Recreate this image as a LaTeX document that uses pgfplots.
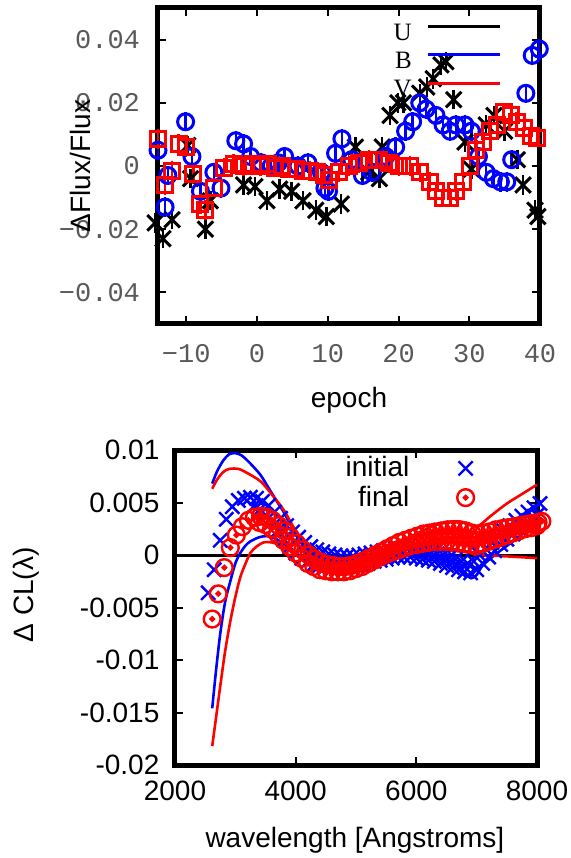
\documentclass[border=0pt]{standalone}
\usepackage{fontspec}
\setmainfont{Liberation Sans}
\newfontfamily\monofont{Liberation Mono}
\newfontfamily\seriffont{Liberation Serif}
\usepackage{pgfplots}
\pgfplotsset{compat=1.18}
\usepackage{pgfplotstable}

\pgfdeclareplotmark{odot}{%
  \pgfpathcircle{\pgfpointorigin}{\pgfplotmarksize}\pgfusepathqstroke
  \pgfpathcircle{\pgfpointorigin}{0.2\pgfplotmarksize}\pgfusepathqfillstroke}

\pgfplotstableread{
x y
-14.4 -0.018
-13.3 -0.023
-12.0 -0.017
-9.8 0.0065
-9.4 -0.004
-7.3 -0.020
-6.6 -0.011
-1.9 -0.006
-0.3 -0.0065
1.4 -0.011
3.2 -0.0073
4.9 -0.008
6.5 -0.011
8.3 -0.014
9.8 -0.016
11.9 -0.012
13.9 0.006
15.8 -0.002
17.3 -0.004
17.7 0.006
18.8 0.016
19.9 0.020
20.7 0.020
23.0 0.023
24.0 0.025
24.9 0.0276
26.0 0.032
26.7 0.033
27.8 0.021
29.4 0.0076
30.3 -0.001
32.4 0.013
33.5 0.016
35.0 0.011
36.8 0.002
37.6 -0.006
39.3 -0.014
39.7 -0.016
}\Udata

\pgfplotstableread{
x y
-14.0 0.005
-13.0 -0.013
-12.6 -0.003
-10.1 0.014
-9.2 0.003
-8.0 -0.008
-6.1 -0.002
-5.1 -0.007
-3.0 0.008
-1.9 0.007
-0.9 0.003
0.6 0.001
2.0 0.000
3.0 0.001
3.9 0.003
5.8 0.000
7.2 0.001
9.1 -0.002
9.6 -0.007
10.1 -0.008
11.1 0.004
12.0 0.0086
13.4 0.002
14.9 -0.003
16.3 -0.002
18.2 0.003
19.6 0.006
21.0 0.011
22.0 0.014
23.0 0.020
23.9 0.018
25.3 0.016
26.3 0.013
27.3 0.011
28.1 0.013
29.4 0.013
30.3 0.011
31.3 0.003
32.4 -0.002
33.4 -0.004
34.4 -0.005
35.3 -0.005
36.0 0.002
38.0 0.023
38.9 0.035
39.9 0.037
}\Bdata

\pgfplotstableread{
x y
-14.0 0.0086
-13.0 -0.006
-12.0 -0.0016
-11.1 0.007
-10.1 0.006
-9.0 -0.0025
-8.0 -0.012
-7.3 -0.014
-6.1 -0.007
-4.7 -0.0005
-3.3 0.0006
-1.9 0.0
-0.5 0.0005
0.5 0.0
1.5 0.0005
2.5 -0.0005
3.5 0.0
4.5 -0.0008
5.5 -0.001
6.5 -0.0015
7.5 -0.0015
8.5 -0.002
9.5 -0.003
10.2 -0.0045
11.6 -0.002
13.0 0.0
14.4 0.001
15.8 0.002
17.3 0.002
18.6 0.001
20.1 0.0
21.6 0.0
23.0 -0.002
24.4 -0.005
25.3 -0.008
26.3 -0.010
27.3 -0.010
28.1 -0.008
29.1 -0.005
30.1 0.0
31.0 0.005
32.0 0.0076
33.0 0.011
33.9 0.013
34.9 0.017
35.9 0.016
36.7 0.014
37.7 0.012
38.7 0.0095
39.6 0.009
}\Vdata

% bottom panel: initial (blue crosses), two rows
\pgfplotstableread{
x y
2550 -0.0036
2650 -0.0014
2750 0.0014
2850 0.0034
2950 0.0046
3050 0.0052
3150 0.0054
3250 0.0055
3350 0.0054
3450 0.0051
3550 0.0047
3650 0.0041
3750 0.0035
3850 0.0028
3950 0.0022
4050 0.0017
4150 0.0012
4250 0.0008
4350 0.0005
4450 0.0003
4550 0.0001
4650 0.0000
4750 -0.0001
4850 -0.0001
4950 -0.0001
5050 0.0000
5150 0.0001
5250 0.0002
5350 0.0003
5450 0.0004
5550 0.0005
5650 0.0006
5750 0.0006
5850 0.0006
5950 0.0005
6050 0.0004
6150 0.0003
6250 0.0002
6350 0.0001
6450 0.0000
6550 -0.0002
6650 -0.0004
6750 -0.0006
6850 -0.0008
6950 -0.0006
7050 0.0000
7150 0.0006
7250 0.0012
7350 0.0018
7450 0.0023
7550 0.0028
7650 0.0033
7750 0.0037
7850 0.0041
7950 0.0045
8050 0.0049
}\InitA

\pgfplotstableread{
x y
3300 0.0046
3400 0.0043
3500 0.0038
3600 0.0031
3700 0.0023
3800 0.0015
3900 0.0008
4000 0.0002
4100 -0.0003
4200 -0.0006
4300 -0.0009
4400 -0.0010
4500 -0.0011
4600 -0.0012
4700 -0.0012
4800 -0.0012
4900 -0.0011
5000 -0.0010
5100 -0.0009
5200 -0.0008
5300 -0.0006
5400 -0.0005
5500 -0.0004
5600 -0.0003
5700 -0.0002
5800 -0.0002
5900 -0.0002
6000 -0.0003
6100 -0.0004
6200 -0.0005
6300 -0.0006
6400 -0.0008
6500 -0.0010
6600 -0.0012
6700 -0.0014
6800 -0.0016
6900 -0.0017
7000 -0.0014
7100 -0.0008
7200 -0.0002
7300 0.0004
7400 0.0010
7500 0.0015
7600 0.0020
7700 0.0025
7800 0.0030
7900 0.0034
8000 0.0038
}\InitB

% final (red circles), two rows
\pgfplotstableread{
x y
2617 -0.0061
2717 -0.0037
2817 -0.0012
2917 0.0007
3017 0.0019
3117 0.0027
3217 0.0033
3317 0.0036
3417 0.0037
3517 0.0036
3617 0.0033
3717 0.0028
3817 0.0023
3917 0.0017
4017 0.0011
4117 0.0005
4217 0.0000
4317 -0.0004
4417 -0.0007
4517 -0.0009
4617 -0.0010
4717 -0.0011
4817 -0.0011
4917 -0.0010
5017 -0.0008
5117 -0.0006
5217 -0.0003
5317 0.0000
5417 0.0003
5517 0.0006
5617 0.0009
5717 0.0012
5817 0.0014
5917 0.0016
6017 0.0018
6117 0.0020
6217 0.0021
6317 0.0022
6417 0.0023
6517 0.0024
6617 0.0024
6717 0.0024
6817 0.0023
6917 0.0021
7017 0.0020
7117 0.0021
7217 0.0022
7317 0.0024
7417 0.0025
7517 0.0026
7617 0.0027
7717 0.0028
7817 0.0029
7917 0.0030
8017 0.0031
8080 0.0032
}\FinA

\pgfplotstableread{
x y
3400 0.0031
3500 0.0029
3600 0.0025
3700 0.0020
3800 0.0014
3900 0.0008
4000 0.0002
4100 -0.0003
4200 -0.0008
4300 -0.0011
4400 -0.0014
4500 -0.0015
4600 -0.0016
4700 -0.0016
4800 -0.0016
4900 -0.0015
5000 -0.0013
5100 -0.0011
5200 -0.0008
5300 -0.0005
5400 -0.0002
5500 0.0001
5600 0.0003
5700 0.0005
5800 0.0007
5900 0.0009
6000 0.0010
6100 0.0011
6200 0.0012
6300 0.0013
6400 0.0013
6500 0.0013
6600 0.0013
6700 0.0012
6800 0.0011
6900 0.0010
7000 0.0009
7100 0.0011
7200 0.0013
7300 0.0015
7400 0.0017
7500 0.0019
7600 0.0021
7700 0.0023
7800 0.0025
7900 0.0026
8000 0.0028
}\FinB

% envelopes
\pgfplotstableread{
x y
2617 0.0068
2700 0.0080
2800 0.0090
2900 0.0096
3000 0.0097
3100 0.0095
3200 0.0090
3300 0.0084
3420 0.0076
3550 0.0064
3700 0.0050
3800 0.0041
3950 0.0025
4083 0.0012
4250 0.0003
4400 -0.0001
4530 -0.0003
4700 -0.0005
4870 -0.0005
5100 -0.0003
5300 0.0000
5500 0.0002
5800 0.0005
6033 0.0007
6300 0.0010
6583 0.0012
6800 0.0010
6967 0.0008
7200 0.0015
7500 0.0024
7800 0.0032
8000 0.0037
}\BUp

\pgfplotstableread{
x y
2617 -0.0146
2680 -0.0110
2750 -0.0075
2830 -0.0045
2917 -0.0025
3000 -0.0008
3083 0.0002
3170 0.0009
3250 0.0013
3400 0.0017
3530 0.0018
3650 0.0016
3800 0.0011
3950 0.0004
4083 -0.0003
4300 -0.0009
4470 -0.0012
4700 -0.0014
4870 -0.0014
5100 -0.0011
5300 -0.0007
5470 -0.0004
5800 0.0000
6030 0.0001
6300 -0.0001
6470 -0.0003
6700 -0.0012
6850 -0.0020
6920 -0.0022
7000 -0.0019
7100 -0.0010
7300 0.0000
7600 0.0013
7850 0.0024
8000 0.0031
}\BLo

\pgfplotstableread{
x y
2617 0.0063
2700 0.0072
2800 0.0079
2900 0.0082
3050 0.0082
3200 0.0078
3420 0.0070
3600 0.0058
3800 0.0043
3950 0.0028
4083 0.0015
4250 0.0004
4400 -0.0002
4600 -0.0006
4800 -0.0008
5000 -0.0007
5200 -0.0004
5470 0.0003
5700 0.0011
6030 0.0021
6300 0.0028
6583 0.0032
6800 0.0031
7000 0.0027
7250 0.0038
7500 0.0049
7750 0.0058
8000 0.0067
}\RUp

\pgfplotstableread{
x y
2617 -0.0182
2680 -0.0155
2750 -0.0125
2830 -0.0092
2917 -0.0063
3000 -0.0040
3083 -0.0021
3170 -0.0008
3250 0.0002
3350 0.0008
3470 0.0012
3600 0.0012
3800 0.0008
3950 0.0002
4083 -0.0003
4300 -0.0010
4470 -0.0015
4700 -0.0018
4870 -0.0018
5100 -0.0015
5300 -0.0011
5470 -0.0007
5800 -0.0001
6030 0.0002
6300 0.0004
6600 0.0004
6900 0.0002
7000 0.0000
7400 -0.0001
8000 -0.0003
}\RLo

\newcommand\monotick{\monofont\fontsize{13.5}{16}\selectfont}
\newcommand\sanslab{\fontsize{14}{16}\selectfont}

\begin{document}
\begin{tikzpicture}
\useasboundingbox (0,0) rectangle (285.5pt,429pt);
% ---------------- top panel ----------------
\begin{axis}[
  at={(79pt,267pt)}, anchor=south west,
  scale only axis, width=191pt, height=158pt,
  xmin=-14, xmax=40, ymin=-0.05, ymax=0.05,
  scaled ticks=false,
  xtick={-10,0,10,20,30,40},
  xticklabels={−10,0,10,20,30,40},
  ytick={-0.04,-0.02,0,0.02,0.04},
  yticklabels={−0.04,−0.02,0,0.02,0.04},
  tick align=inside, major tick length=4pt,
  every tick/.style={black, line width=1pt},
  axis line style={line width=2.5pt},
  xticklabel style={font=\monotick, text=black!65, yshift=-6.5pt},
  yticklabel style={font=\monotick, text=black!65, xshift=-5.5pt},
  xlabel={epoch},
  xlabel style={font=\sanslab, at={(axis description cs:0.5,-0.24)}, anchor=center},
  clip=false,
  legend cell align=right, legend plot pos=right,
  legend style={draw=none, fill=none, inner sep=0pt, anchor=north east,
    at={(axis cs:34.65,0.0451)}, font=\seriffont\fontsize{12.5}{14}\selectfont,
    row sep=4.5pt, column sep=7.5pt, nodes={inner sep=0pt}},
]
\addplot[only marks, black, mark=x, mark size=5.5pt, line width=1.5pt,
  error bars/.cd, y dir=both, y fixed=0.0015,
  error bar style={line width=1.2pt}, error mark options={line width=1.2pt, mark size=2.5pt},
  /pgfplots/legend image code/.code={\draw[black, line width=1.5pt] (0pt,3.5pt) -- (36pt,3.5pt);}]
  table[x=x,y=y] {\Udata};
\addlegendentry{U}
\addplot[only marks, blue, mark=o, mark size=4pt, line width=1.5pt,
  error bars/.cd, y dir=both, y fixed=0.0015,
  error bar style={line width=1.2pt}, error mark options={line width=1.2pt, mark size=2.5pt},
  /pgfplots/legend image code/.code={\draw[blue, line width=1.5pt] (0pt,3.5pt) -- (36pt,3.5pt);}]
  table[x=x,y=y] {\Bdata};
\addlegendentry{B}
\addplot[only marks, red, mark=square, mark size=3.75pt, line width=1.5pt,
  error bars/.cd, y dir=both, y fixed=0.0015,
  error bar style={line width=1.2pt}, error mark options={line width=1.2pt, mark size=2.5pt},
  /pgfplots/legend image code/.code={\draw[red, line width=1.5pt] (0pt,3.5pt) -- (36pt,3.5pt);}]
  table[x=x,y=y] {\Vdata};
\addlegendentry{V}
\node[font=\sanslab, rotate=90, anchor=center] at (rel axis cs:-0.204,0.5) {ΔFlux/Flux};
\end{axis}
% ---------------- bottom panel ----------------
\begin{axis}[
  at={(87.5pt,46.5pt)}, anchor=south west,
  scale only axis, width=181pt, height=157.5pt,
  xmin=2000, xmax=8000, ymin=-0.02, ymax=0.01,
  scaled ticks=false,
  xtick={2000,4000,6000,8000},
  xticklabels={2000,4000,6000,8000},
  ytick={-0.02,-0.015,-0.01,-0.005,0,0.005,0.01},
  yticklabels={-0.02,-0.015,-0.01,-0.005,0,0.005,0.01},
  tick align=inside, major tick length=4pt,
  every tick/.style={black, line width=1pt},
  axis line style={line width=2.5pt},
  xticklabel style={font=\sanslab, yshift=-4.3pt},
  yticklabel style={font=\sanslab, xshift=-4.3pt},
  xlabel={wavelength [Angstroms]},
  xlabel style={font=\sanslab, at={(axis description cs:0.497,-0.238)}, anchor=center},
  clip=false,
  legend cell align=right, legend plot pos=right,
  legend style={draw=none, fill=none, inner sep=0pt, anchor=north east,
    at={(axis cs:7755,0.0094)}, font=\sanslab,
    row sep=3pt, column sep=0pt, nodes={inner sep=0pt}},
  legend image code/.code={\path (0pt,0pt) (55pt,0pt);
    \draw[#1] plot coordinates {(27.5pt,0pt)};},
]
\addplot[black, line width=1.5pt, forget plot] coordinates {(2000,0) (8000,0)};
\addplot[only marks, blue, mark=x, mark size=5pt, line width=1.2pt] table[x=x,y=y] {\InitA};
\addlegendentry{initial}
\addplot[only marks, blue, mark=x, mark size=5pt, line width=1.2pt, forget plot] table[x=x,y=y] {\InitB};
\addplot[only marks, red, mark=odot, mark size=4.2pt, line width=1.2pt] table[x=x,y=y] {\FinA};
\addlegendentry{final}
\addplot[only marks, red, mark=odot, mark size=4.2pt, line width=1.2pt, forget plot] table[x=x,y=y] {\FinB};
\addplot[blue, line width=1.3pt, smooth, forget plot] table[x=x,y=y] {\BUp};
\addplot[blue, line width=1.3pt, smooth, forget plot] table[x=x,y=y] {\BLo};
\addplot[red, line width=1.3pt, smooth, forget plot] table[x=x,y=y] {\RUp};
\addplot[red, line width=1.3pt, smooth, forget plot] table[x=x,y=y] {\RLo};
\node[font=\sanslab, rotate=90, anchor=center] at (rel axis cs:-0.412,0.54) {Δ CL(λ)};
\end{axis}
\end{tikzpicture}
\end{document}
